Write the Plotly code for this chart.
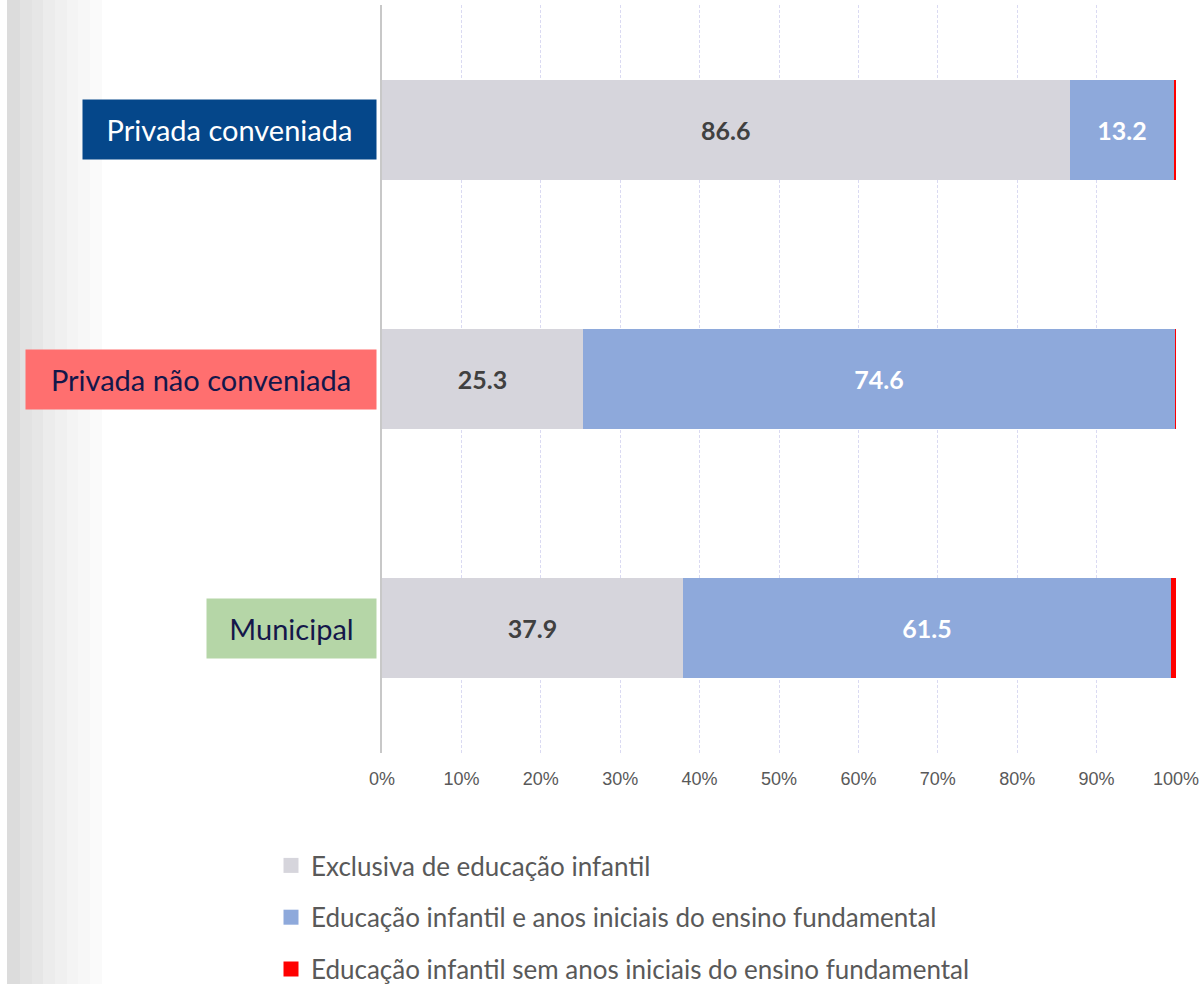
import plotly.graph_objects as go

# dados (percentual de escolas por tipo de oferta)
categorias = ["Privada conveniada", "Privada não conveniada", "Municipal"]
exclusiva = [86.6, 25.3, 37.9]
com_fundamental = [13.2, 74.6, 61.5]
sem_fundamental = [0.2, 0.1, 0.6]
series_nomes = [
    "Exclusiva de educação infantil",
    "Educação infantil e anos iniciais do ensino fundamental",
    "Educação infantil sem anos iniciais do ensino fundamental",
]
ticks_x = [0, 10, 20, 30, 40, 50, 60, 70, 80, 90, 100]
ticks_texto = ["0%", "10%", "20%", "30%", "40%", "50%", "60%", "70%", "80%", "90%", "100%"]

# estilo dos rótulos das categorias (caixa colorida à esquerda)
rotulo_fundo = ["#05478A", "#FF6F6F", "#B5D6A7"]
rotulo_texto = ["#FFFFFF", "#14174A", "#14174A"]
rotulo_largura = [293, 350, 169]
cores = ["#D6D5DC", "#8EA9DB", "#FF0000"]

FONTE = "Lato"
L, R, T, B = 382, 28, 5, 231
W, H = 1204, 984


def px2paper(px):
    return (px - L) / (W - L - R)


def py2paper(py):
    return (H - B - py) / (H - T - B)


fig = go.Figure()
fig.add_trace(go.Bar(
    y=categorias, x=exclusiva, name=series_nomes[0], orientation="h",
    marker_color=cores[0], showlegend=False,
    text=exclusiva, texttemplate="%{x:.1f}", textposition="inside",
    insidetextanchor="middle",
    textfont=dict(family=FONTE, size=25, color="#404040", weight="bold"),
))
fig.add_trace(go.Bar(
    y=categorias, x=com_fundamental, name=series_nomes[1], orientation="h",
    marker_color=cores[1], showlegend=False,
    text=com_fundamental, texttemplate="%{x:.1f}", textposition="inside",
    insidetextanchor="middle",
    textfont=dict(family=FONTE, size=25, color="#FFFFFF", weight="bold"),
))
fig.add_trace(go.Bar(
    y=categorias, x=sem_fundamental, name=series_nomes[2], orientation="h",
    marker_color=cores[2], textposition="none", showlegend=False,
))
for traco in fig.data:
    traco.marker.line.width = 0

# legenda com quadrados maiores (traços vazios só para a legenda)
for i, (nome, cor) in enumerate(zip(series_nomes, cores)):
    fig.add_trace(go.Scatter(
        x=[None], y=[None], mode="markers", name=nome, legendgroup=str(i),
        marker=dict(symbol="square", size=15, color=cor), hoverinfo="skip",
    ))

# faixa cinza em degradê na borda esquerda
faixas = [(7, 20, "#DCDCDC"), (20, 32, "#E2E2E2"), (32, 43, "#E6E6E6"), (43, 55, "#ECECEC"),
          (55, 67, "#F0F0F0"), (67, 78, "#F4F4F4"), (78, 90, "#F7F7F7"), (90, 102, "#FAFAFA")]
for x0, x1, cor in faixas:
    fig.add_shape(type="rect", xref="paper", yref="paper", x0=px2paper(x0), x1=px2paper(x1),
                  y0=py2paper(H), y1=py2paper(0), fillcolor=cor, line_width=0, layer="below")

for cat, fundo, cor, larg in zip(categorias, rotulo_fundo, rotulo_texto, rotulo_largura):
    fig.add_annotation(
        x=px2paper(377), xref="paper", xanchor="right", y=cat, yref="y",
        text=cat, showarrow=False, bgcolor=fundo, width=larg, height=59,
        borderpad=0, align="center", valign="middle",
        font=dict(family=FONTE, size=29, color=cor),
    )

fig.update_layout(
    width=W, height=H,
    margin=dict(l=L, r=R, t=T, b=B, autoexpand=False),
    barmode="stack", bargap=0.6,
    paper_bgcolor="#FFFFFF", plot_bgcolor="rgba(0,0,0,0)",
    showlegend=True,
    legend=dict(
        x=px2paper(271), xanchor="left", y=py2paper(842), yanchor="top",
        traceorder="grouped", tracegroupgap=15, itemsizing="trace",
        font=dict(family=FONTE, size=26, color="#595959"),
        bgcolor="rgba(0,0,0,0)",
    ),
    xaxis=dict(
        range=[0, 100], tickvals=ticks_x, ticktext=ticks_texto,
        showgrid=True, gridcolor="#DADAF2", griddash="3px,2px", gridwidth=1,
        zeroline=False, showline=False, ticks="", ticklabelstandoff=13,
        tickfont=dict(family="Liberation Sans Narrow, Arial Narrow, Liberation Sans, Arial", size=18, color="#595959"),
    ),
    yaxis=dict(
        autorange="reversed", showticklabels=False, showgrid=False,
        showline=True, linecolor="#C8C8C8", linewidth=2, zeroline=False, ticks="",
    ),
)

fig.write_html("out.html", config={"displayModeBar": False},
               post_script="document.body.style.margin='0';")
